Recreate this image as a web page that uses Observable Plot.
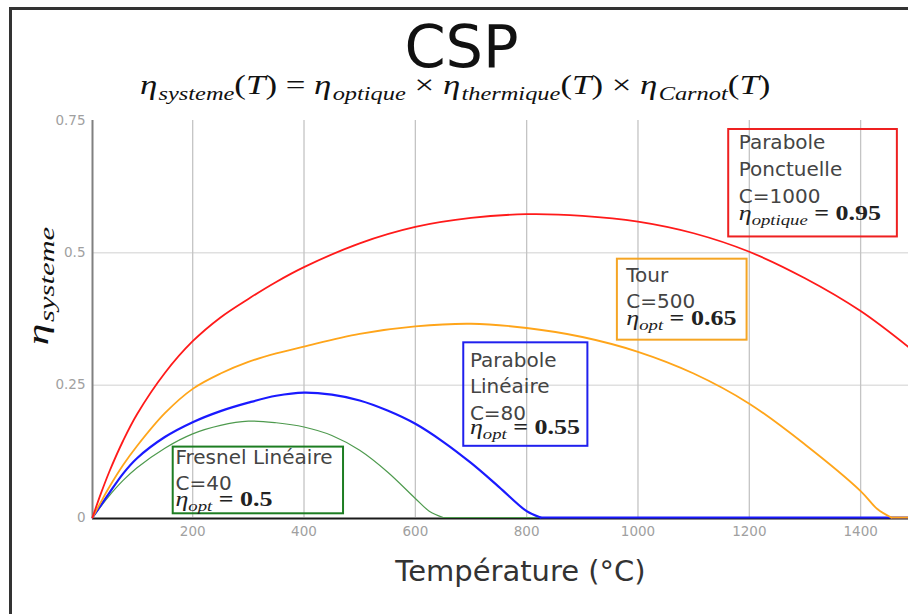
<!DOCTYPE html>
<html><head><meta charset="utf-8">
<script src="https://cdn.jsdelivr.net/npm/d3@7"></script>
<script src="https://cdn.jsdelivr.net/npm/@observablehq/plot@0.6"></script>
<style>
html,body{margin:0;padding:0;background:#fff;}
#wrap{position:relative;width:908px;height:614px;overflow:hidden;background:#fff;font-family:"DejaVu Sans",sans-serif;}
#frame{position:absolute;left:9px;top:7px;width:920px;height:620px;border-left:3px solid #333;border-top:3px solid #333;box-sizing:border-box;pointer-events:none;z-index:5;}
#header{position:relative;height:110px;}
#title{position:absolute;left:0;width:923px;top:17px;text-align:center;font-size:59px;line-height:59px;color:#111;font-family:"DejaVu Sans",sans-serif;}
#subtitle{position:absolute;left:0;width:910px;top:70px;text-align:center;font-size:28px;line-height:30px;color:#111;font-family:"Liberation Serif",serif;white-space:nowrap;}
#subtxt{display:inline-block;transform-origin:center;}
.sb{font-size:0.7em;position:relative;top:0.3em;margin-left:1px;}
#ylab{position:absolute;left:39px;top:286px;font-size:30px;line-height:30px;font-family:"Liberation Serif",serif;color:#111;white-space:nowrap;transform-origin:center;z-index:3;}
#chart svg{display:block;}
</style>
</head><body>
<div id="wrap">
  <div id="frame"></div>
  <div id="header">
    <div id="title"></div>
    <div id="subtitle"><span id="subtxt"><i>η</i><span class="sb"><i>systeme</i></span>(<i>T</i>) = <i>η</i><span class="sb"><i>optique</i></span> × <i>η</i><span class="sb"><i>thermique</i></span>(<i>T</i>) × <i>η</i><span class="sb"><i>Carnot</i></span>(<i>T</i>)</span></div>
  </div>
  <div id="ylab"><i>η</i><span class="sb"><i>systeme</i></span></div>
  <div id="chart"></div>
</div>
<script>
// ---- Data ----
const chartTitle = "CSP";
const xLabel = "Température (°C)";
const xTicks = [200, 400, 600, 800, 1000, 1200, 1400];
const yTicks = [0, 0.25, 0.5, 0.75];

const seriesNames = ["Parabole Ponctuelle", "Tour", "Parabole Linéaire", "Fresnel Linéaire"];

// Parabole Ponctuelle (C=1000)
const ponctuelleT   = [20, 35, 50, 75, 100, 150, 200, 250, 300, 350, 400, 500, 600, 700, 800, 900, 1000, 1100, 1200, 1300, 1400, 1486];
const ponctuelleEta = [0, 0.045, 0.086, 0.145, 0.195, 0.273, 0.333, 0.378, 0.413, 0.445, 0.473, 0.518, 0.549, 0.566, 0.573, 0.570, 0.559, 0.537, 0.502, 0.452, 0.390, 0.322];
// Tour (C=500)
const tourT   = [20, 35, 50, 75, 100, 150, 200, 250, 300, 350, 400, 500, 600, 700, 800, 900, 1000, 1100, 1200, 1300, 1400, 1430, 1455, 1486];
const tourEta = [0, 0.029, 0.057, 0.099, 0.135, 0.197, 0.243, 0.272, 0.294, 0.310, 0.323, 0.347, 0.361, 0.366, 0.358, 0.341, 0.313, 0.272, 0.215, 0.138, 0.05, 0.016, 0, 0];
// Parabole Linéaire (C=80)
const lineaireT   = [20, 35, 50, 75, 100, 150, 200, 250, 300, 350, 400, 450, 500, 550, 600, 650, 700, 750, 800, 825, 1486];
const lineaireEta = [0, 0.023, 0.046, 0.083, 0.112, 0.152, 0.18, 0.201, 0.217, 0.230, 0.236, 0.232, 0.221, 0.202, 0.177, 0.143, 0.103, 0.058, 0.012, 0, 0];
// Fresnel Linéaire (C=40)
const fresnelT   = [20, 35, 50, 75, 100, 150, 200, 250, 300, 350, 400, 450, 500, 550, 600, 625, 650, 1486];
const fresnelEta = [0, 0.021, 0.041, 0.07, 0.094, 0.131, 0.158, 0.174, 0.182, 0.179, 0.171, 0.155, 0.127, 0.086, 0.036, 0.012, 0, 0];

// Annotation texts
const annText = ["Parabole\nPonctuelle\nC=1000", "Tour\nC=500", "Parabole\nLinéaire\nC=80", "Fresnel Linéaire\nC=40"];
const annMath = ["η_optique = 0.95", "η_opt = 0.65", "η_opt = 0.55", "η_opt = 0.5"];

// ---- Layout of the annotation boxes (data coordinates: °C, η) ----
const annLayout = [
  {x1: 1163, x2: 1466, y1: 0.530, y2: 0.733, tx: 1181, ty: 0.595, my: 0.5616},
  {x1: 963,  x2: 1196, y1: 0.335, y2: 0.488, tx: 979,  ty: 0.395, my: 0.3636},
  {x1: 687,  x2: 910,  y1: 0.1345, y2: 0.330, tx: 698, ty: 0.1847, my: 0.1572},
  {x1: 165,  x2: 471,  y1: 0.007, y2: 0.133, tx: 169,  ty: 0.0511, my: 0.0218}
];
const annColors = ["#ee2020", "#f5a524", "#2020ee", "#1d7d22"];

document.getElementById("title").textContent = chartTitle;

const zip = (name, T, E) => T.map((t, i) => ({series: name, T: t, eta: E[i]}));
// split a series into its curved part and its flat zero tail
function parts(name, T, E) {
  const rows = zip(name, T, E);
  const zi = E.findIndex((e, i) => i > 0 && e === 0);
  if (zi < 0) return {curve: rows, flat: []};
  return {curve: rows.slice(0, zi + 1), flat: rows.slice(zi)};
}
const pPonct = parts(seriesNames[0], ponctuelleT, ponctuelleEta);
const pTour = parts(seriesNames[1], tourT, tourEta);
const pLin = parts(seriesNames[2], lineaireT, lineaireEta);
const pFres = parts(seriesNames[3], fresnelT, fresnelEta);

const seriesMarks = (p, style) => [
  Plot.line(p.curve, {x: "T", y: "eta", ...style, curve: "catmull-rom"}),
  Plot.line(p.flat, {x: "T", y: "eta", ...style})
];

const ann = annLayout.map((a, i) => ({...a, text: annText[i], math: annMath[i], color: annColors[i]}));

const plot = Plot.plot({
  width: 908,
  height: 504,
  marginLeft: 92,
  marginRight: 0,
  marginTop: 10,
  marginBottom: 97,
  style: {fontFamily: "DejaVu Sans, sans-serif", background: "transparent", overflow: "visible"},
  x: {domain: [20, 1486]},
  y: {domain: [0, 0.75]},
  marks: [
    Plot.gridY([0.25, 0.5], {stroke: "#e0e0e0", strokeOpacity: 1, strokeWidth: 1.5}),
    Plot.gridX(xTicks, {stroke: "#c4c4c4", strokeOpacity: 1, strokeWidth: 1.3}),
    Plot.ruleX([20], {stroke: "#808080", strokeWidth: 2}),
    Plot.ruleY([0], {stroke: "#1a1a1a", strokeWidth: 2, dy: 1}),
    Plot.axisX(xTicks, {tickSize: 0, tickPadding: 9, fontSize: 13.5, color: "#a0a0a0", label: null, tickFormat: d => String(d)}),
    Plot.axisY(yTicks, {tickSize: 0, tickPadding: 7, fontSize: 13.5, color: "#a0a0a0", label: null, tickFormat: d => String(d)}),
    Plot.rect(ann, {x1: "x1", x2: "x2", y1: "y1", y2: "y2", stroke: "color", fill: "none", strokeWidth: 2}),
    ...seriesMarks(pFres, {stroke: "#4e9a4e", strokeWidth: 1.2}),
    ...seriesMarks(pLin, {stroke: "#1a1aff", strokeWidth: 2.2}),
    ...seriesMarks(pTour, {stroke: "#ffa51a", strokeWidth: 1.8}),
    ...seriesMarks(pPonct, {stroke: "#ff1a1a", strokeWidth: 1.8}),
    Plot.text(ann, {x: "tx", y: "ty", text: "text", textAnchor: "start", lineAnchor: "bottom", lineHeight: 1.33, fontSize: 20, fill: "#444"}),
    Plot.text(ann, {x: "tx", y: "my", text: "math", textAnchor: "start", lineAnchor: "bottom", fontSize: 20, fill: "#222", fontFamily: "Liberation Serif, serif"}),
    Plot.text([xLabel], {frameAnchor: "bottom", dx: 20, dy: 63, lineAnchor: "bottom", fontSize: 29, fill: "#333"})
  ]
});
document.getElementById("chart").appendChild(plot);

// Render "η_sub rest" as math with a subscript
const ns = "http://www.w3.org/2000/svg";
d3.select(plot).selectAll("text").each(function() {
  const s = this.textContent;
  const m = s.match(/^η_(\S+)(.*)$/);
  if (!m || this.querySelector("tspan")) return;
  const size = 20;
  this.textContent = "";
  const add = (txt, attrs) => {
    const t = document.createElementNS(ns, "tspan");
    for (const k in attrs) t.setAttribute(k, attrs[k]);
    t.textContent = txt;
    this.appendChild(t);
  };
  add("η", {"font-style": "italic"});
  add(m[1], {"font-style": "italic", "font-size": size * 0.72, "dy": size * 0.24});
  add(m[2].replace(/ /g, "\u00a0"), {"dy": -size * 0.24, "font-weight": "bold"});
  const tr = this.getAttribute("transform") || "";
  this.setAttribute("transform", tr + " scale(1.3,1)");
});

// Stretch the formula and the rotated y label to the reference lengths
const st = document.getElementById("subtxt");
st.style.transform = `scaleX(${630 / st.offsetWidth})`;
const yl = document.getElementById("ylab");
yl.style.transform = `translate(-50%,-50%) rotate(-90deg) scaleX(${118 / yl.offsetWidth})`;
</script>
</body></html>
